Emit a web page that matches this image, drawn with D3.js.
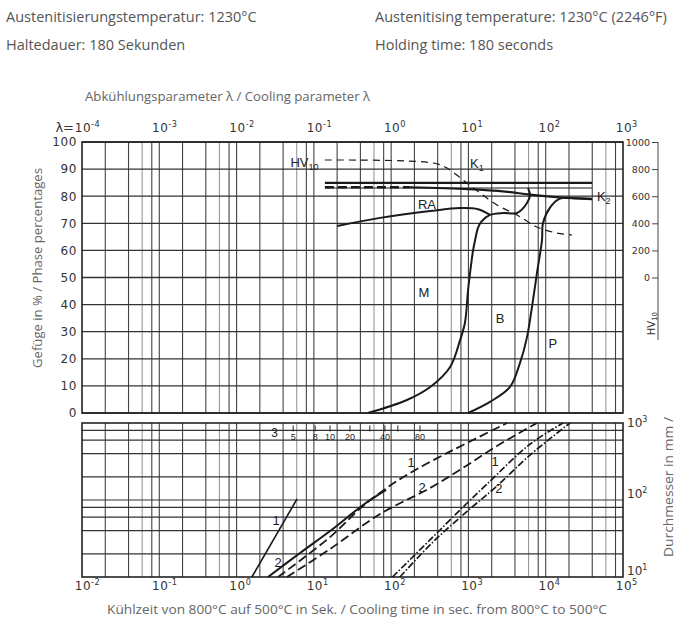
<!DOCTYPE html>
<html>
<head>
<meta charset="utf-8">
<script src="https://cdn.jsdelivr.net/npm/d3@7"></script>
<style>
  body { margin: 0; background: #fff; }
  text { font-family: "DejaVu Sans", sans-serif; }
  .title { font-family: "Open Sans", sans-serif; fill: #666; }
</style>
</head>
<body>
<div id="chart"></div>
<script>
const width = 678;
const height = 621;

// header texts
const headerLeft = ["Austenitisierungstemperatur: 1230°C", "Haltedauer: 180 Sekunden"];
const headerRight = ["Austenitising temperature: 1230°C (2246°F)", "Holding time: 180 seconds"];

// tick values
const lambdaDecades = [-4, -3, -2, -1, 0, 1, 2, 3];
const timeDecades = [-2, -1, 0, 1, 2, 3, 4, 5];
const diaDecades = [1, 2, 3];
const gridSteps = [1, 2, 4, 6, 8];
const pctTicks = [0, 10, 20, 30, 40, 50, 60, 70, 80, 90, 100];
const hvTicks = [0, 200, 400, 600, 800, 1000];

// upper diagram, [lambda, percent]
const martensite = [[0.5, 0], [1.6, 4.8], [3.2, 9.6], [5.8, 17], [7.8, 26.9], [9.0, 33.2], [9.9, 45.4],
  [10.5, 51.7], [11.5, 60.1], [12.2, 63.8], [13.3, 68.3], [14.7, 70.6], [19, 73.1], [28.3, 73.8],
  [42.5, 73.8], [57.3, 77.5], [62.6, 80.4], [59, 83]];
const retained = [[0.2, 69], [0.72, 72], [3.2, 74.5], [7.8, 75.6], [13.3, 75.2], [19, 73.1]];
const bainite = [[9.9, 0], [19, 4.1], [34.5, 9.6], [46.5, 18.5], [57.3, 28], [66.4, 39.1], [77.1, 51.7],
  [89.5, 63.8], [92.2, 70.1], [113.6, 75.8], [153, 79.1], [250, 79.2], [397, 79.1]];
const k1Line = [[0.139, 84.9], [397, 84.9]];
const thinLine = [[0.139, 83.0], [397, 83.0]];
const k2Dashed = [[0.139, 83.3], [1.75, 83.3]];
const k2Solid = [[1.75, 83.3], [10, 82.6], [30, 81.7], [62, 80.6], [150, 79.6], [397, 78.9]];
// hardness, [lambda, HV10]
const hardness = [[0.139, 867], [3.5, 845], [5.3, 808], [8.5, 720], [14.1, 624], [23.4, 535],
  [42.5, 461], [77, 373], [140, 328], [219, 314]];

// lower diagram, [cooling time s, diameter mm]
const steepLine = [[1.58, 10], [6.05, 103]];
const airSolid = [[2.55, 10], [6.62, 20.5], [16.2, 39.5], [43.3, 86], [86, 135]];
const air1 = [[3.44, 10], [16.2, 33], [43.3, 83.6], [119, 176.6], [318, 312], [851, 518], [3155, 1000]];
const air2 = [[4.49, 10], [16.2, 23.1], [71.8, 65.8], [318, 143], [851, 261], [2339, 503], [7709, 1000]];
const oven1 = [[104, 10], [318, 30.3], [851, 81], [1738, 161], [6252, 530], [16700, 1000]];
const oven2 = [[130, 10], [348, 28.5], [1047, 76.6], [2340, 152], [6252, 383], [20600, 1000]];
// scale along the top of the lower diagram, placed at cooling time
const scaleLabels = ["5", "8", "10", "20", "40", "80"];
const scaleAt = [5.4, 10.4, 16.2, 29.3, 83, 236];
const scaleMinor = [53, 122];

// labels: [text, subscript, x value, y value, anchor]
const upperLabels = [["HV", "10", 0.115, 90.8, "end"], ["K", "1", 10.5, 90.4, "start"],
  ["K", "2", 460, 78.4, "start"], ["RA", "", 2.91, 75.3, "middle"], ["M", "", 2.66, 42.8, "middle"],
  ["B", "", 25.6, 33.2, "middle"], ["P", "", 124, 24.0, "middle"]];
const lowerLabels = [["1", 3.24, 55], ["2", 3.44, 15.7], ["1", 181, 312], ["2", 251, 147],
  ["1", 2208, 320], ["2", 2485, 143]];

const svg = d3.select("#chart").append("svg")
  .attr("width", width)
  .attr("height", height);

// scales
const x = d3.scaleLog().domain([1e-4, 1e3]).range([82, 623]);
const xt = d3.scaleLog().domain([1e-2, 1e5]).range([82, 623]);
const y = d3.scaleLinear().domain([0, 100]).range([413, 142]);
const yhv = d3.scaleLinear().domain([0, 1000]).range([y(50), y(100)]);
const yd = d3.scaleLog().domain([10, 1000]).range([577, 423]);

function logGrid(lo, hi) {
  const v = [];
  for (let e = lo; e < hi; e++) gridSteps.forEach(m => v.push({ v: m * Math.pow(10, e), m: m }));
  return v;
}

// header
headerLeft.forEach((t, i) => {
  svg.append("text").attr("class", "title").attr("x", 6).attr("y", 22 + i * 28)
    .style("font-size", "14.5px").style("fill", "#555").text(t);
});
headerRight.forEach((t, i) => {
  svg.append("text").attr("class", "title").attr("x", 375).attr("y", 22 + i * 28)
    .style("font-size", "14.5px").style("fill", "#555").text(t);
});

// ---- grids
const up = svg.append("g");
up.selectAll("line.v").data(logGrid(-4, 3).filter(d => d.v > 1e-4)).enter().append("line")
  .attr("x1", d => x(d.v)).attr("x2", d => x(d.v))
  .attr("y1", y(100)).attr("y2", y(0))
  .attr("stroke", d => d.m === 6 ? "#999" : "#444")
  .attr("stroke-width", 1.1);
up.selectAll("line.h").data(pctTicks).enter().append("line")
  .attr("x1", x(1e-4)).attr("x2", x(1e3))
  .attr("y1", d => y(d)).attr("y2", d => y(d))
  .attr("stroke", "#333").attr("stroke-width", 1.3);
up.append("rect").attr("x", x(1e-4)).attr("y", y(100))
  .attr("width", x(1e3) - x(1e-4)).attr("height", y(0) - y(100))
  .attr("fill", "none").attr("stroke", "#222").attr("stroke-width", 1.6);

const low = svg.append("g");
low.selectAll("line.v").data(logGrid(-2, 5).filter(d => d.v > 1e-2)).enter().append("line")
  .attr("x1", d => xt(d.v)).attr("x2", d => xt(d.v))
  .attr("y1", yd(1000)).attr("y2", yd(10))
  .attr("stroke", d => d.m === 6 ? "#999" : "#444")
  .attr("stroke-width", 1.1);
low.selectAll("line.h").data(logGrid(1, 3).filter(d => d.v > 10)).enter().append("line")
  .attr("x1", xt(1e-2)).attr("x2", xt(1e5))
  .attr("y1", d => yd(d.v)).attr("y2", d => yd(d.v))
  .attr("stroke", "#333").attr("stroke-width", 1.2);
low.append("rect").attr("x", xt(1e-2)).attr("y", yd(1000))
  .attr("width", xt(1e5) - xt(1e-2)).attr("height", yd(10) - yd(1000))
  .attr("fill", "none").attr("stroke", "#222").attr("stroke-width", 1.6);

// ---- axes
const leftAxis = svg.append("g").attr("transform", `translate(${x(1e-4)},0)`)
  .call(d3.axisLeft(y).tickValues(pctTicks).tickSize(0).tickPadding(5));
leftAxis.select(".domain").remove();
leftAxis.selectAll("text").style("font-size", "12px").style("letter-spacing", "0.6px")
  .style("font-family", "DejaVu Sans").attr("fill", "#333");

const hvAxis = svg.append("g").attr("transform", "translate(658,0)")
  .call(d3.axisLeft(yhv).tickValues(hvTicks).tickFormat(d3.format("d")).tickSize(6).tickPadding(2));
hvAxis.select(".domain").remove();
hvAxis.selectAll("text").style("font-size", "9.5px").style("font-family", "DejaVu Sans").attr("fill", "#333");
hvAxis.selectAll("line").attr("stroke", "#444");
svg.append("line").attr("x1", 658).attr("x2", 658).attr("y1", yhv(1000)).attr("y2", y(27))
  .attr("stroke", "#444").attr("stroke-width", 1);
svg.append("text").attr("transform", `translate(655,${y(33)}) rotate(-90)`)
  .attr("text-anchor", "middle").style("font-size", "10px").attr("fill", "#333")
  .call(t => { t.append("tspan").text("HV"); t.append("tspan").attr("dy", 2).style("font-size", "7px").text("10"); });

function powerLabel(g, px, py, exp, size) {
  const t = g.append("text").attr("x", px - size * 0.6).attr("y", py)
    .style("font-size", size + "px").style("letter-spacing", "0.5px").attr("fill", "#333");
  t.append("tspan").text("10");
  t.append("tspan").attr("dy", -size * 0.45).style("font-size", (size * 0.68) + "px").text(exp);
  return t;
}

lambdaDecades.forEach(d => powerLabel(svg, x(Math.pow(10, d)), 132, d === 0 ? "0" : String(d), 12));
svg.append("text").attr("x", x(1e-4) - 8).attr("y", 132).attr("text-anchor", "end")
  .style("font-size", "13px").attr("fill", "#333").text("λ=");
timeDecades.forEach(d => powerLabel(svg, xt(Math.pow(10, d)), 590, d === 0 ? "0" : String(d), 12));
diaDecades.forEach(d => {
  const v = Math.pow(10, d);
  const t = svg.append("text").attr("x", 627).attr("y", Math.max(yd(v) - 2, yd(1000) + 4))
    .style("font-size", "12px").attr("fill", "#333");
  t.append("tspan").text("10");
  t.append("tspan").attr("dy", -5).style("font-size", "8px").text(d);
});

// titles
svg.append("text").attr("class", "title").attr("x", 85).attr("y", 101)
  .attr("textLength", 285).attr("lengthAdjust", "spacingAndGlyphs")
  .style("font-size", "13px").text("Abkühlungsparameter λ / Cooling parameter λ");
svg.append("text").attr("class", "title").attr("x", 107).attr("y", 614)
  .attr("textLength", 500).attr("lengthAdjust", "spacingAndGlyphs")
  .style("font-size", "13.5px").text("Kühlzeit von 800°C auf 500°C in Sek. / Cooling time in sec. from 800°C to 500°C");
svg.append("text").attr("class", "title").attr("transform", "translate(42,268) rotate(-90)")
  .attr("text-anchor", "middle").attr("textLength", 200).attr("lengthAdjust", "spacingAndGlyphs")
  .style("font-size", "12.5px").text("Gefüge in % / Phase percentages");
svg.append("text").attr("class", "title").attr("transform", "translate(673,487) rotate(-90)")
  .attr("text-anchor", "middle").attr("textLength", 140).attr("lengthAdjust", "spacingAndGlyphs")
  .style("font-size", "12.5px").text("Durchmesser in mm /");

// ---- upper curves
const line = d3.line().x(d => x(d[0])).y(d => y(d[1])).curve(d3.curveCatmullRom.alpha(0.5));
const hvLine = d3.line().x(d => x(d[0])).y(d => yhv(d[1])).curve(d3.curveCatmullRom.alpha(0.5));
const curves = svg.append("g").attr("fill", "none").attr("stroke", "#1a1a1a");

curves.append("path").attr("d", hvLine(hardness)).attr("stroke-width", 1.2).attr("stroke-dasharray", "7,5");
curves.append("path").attr("d", line(k1Line)).attr("stroke-width", 2.4);
curves.append("path").attr("d", line(thinLine)).attr("stroke-width", 1.1);
curves.append("path").attr("d", line(k2Dashed)).attr("stroke-width", 2.6).attr("stroke-dasharray", "9,4");
curves.append("path").attr("d", line(k2Solid)).attr("stroke-width", 2.2);
curves.append("path").attr("d", line(retained)).attr("stroke-width", 2);
curves.append("path").attr("d", line(martensite)).attr("stroke-width", 2);
curves.append("path").attr("d", line(bainite)).attr("stroke-width", 2);

upperLabels.forEach(l => {
  const t = svg.append("text").attr("x", x(l[2])).attr("y", y(l[3])).attr("text-anchor", l[4])
    .style("font-size", "13px").attr("fill", "#222").style("font-family", "Liberation Sans");
  t.append("tspan").text(l[0]);
  if (l[1]) t.append("tspan").attr("dy", 3).style("font-size", "9px").text(l[1]);
});

// ---- lower curves
const lowLine = d3.line().x(d => xt(d[0])).y(d => yd(d[1])).curve(d3.curveCatmullRom.alpha(0.5));
const lc = svg.append("g").attr("fill", "none").attr("stroke", "#1a1a1a");
lc.append("path").attr("d", lowLine(steepLine)).attr("stroke-width", 1.6);
lc.append("path").attr("d", lowLine(airSolid)).attr("stroke-width", 2);
lc.append("path").attr("d", lowLine(air1)).attr("stroke-width", 1.8).attr("stroke-dasharray", "9,4");
lc.append("path").attr("d", lowLine(air2)).attr("stroke-width", 1.8).attr("stroke-dasharray", "9,4");
lc.append("path").attr("d", lowLine(oven1)).attr("stroke-width", 1.7).attr("stroke-dasharray", "7,2,1.5,2");
lc.append("path").attr("d", lowLine(oven2)).attr("stroke-width", 1.7).attr("stroke-dasharray", "7,2,1.5,2");

lowerLabels.forEach(l => {
  svg.append("text").attr("x", xt(l[1])).attr("y", yd(l[2]) + 5).attr("text-anchor", "middle")
    .style("font-size", "13px").style("font-family", "Liberation Sans").attr("fill", "#222").text(l[0]);
});

// scale on top edge of the lower diagram
const sy = yd(800);
svg.append("text").attr("x", 278).attr("y", sy + 7).attr("text-anchor", "end")
  .style("font-size", "12px").style("font-family", "Liberation Sans").attr("fill", "#222").text("3");
svg.selectAll("line.sc").data(scaleAt.concat(scaleMinor)).enter().append("line")
  .attr("x1", d => xt(d)).attr("x2", d => xt(d))
  .attr("y1", sy - 5).attr("y2", sy + 1).attr("stroke", "#222").attr("stroke-width", 1);
svg.selectAll("text.sc").data(scaleLabels).enter().append("text")
  .attr("x", (d, i) => xt(scaleAt[i])).attr("y", sy + 10).attr("text-anchor", "middle")
  .style("font-size", "9px").style("font-family", "Liberation Sans").attr("fill", "#222").text(d => d);
</script>
</body>
</html>
